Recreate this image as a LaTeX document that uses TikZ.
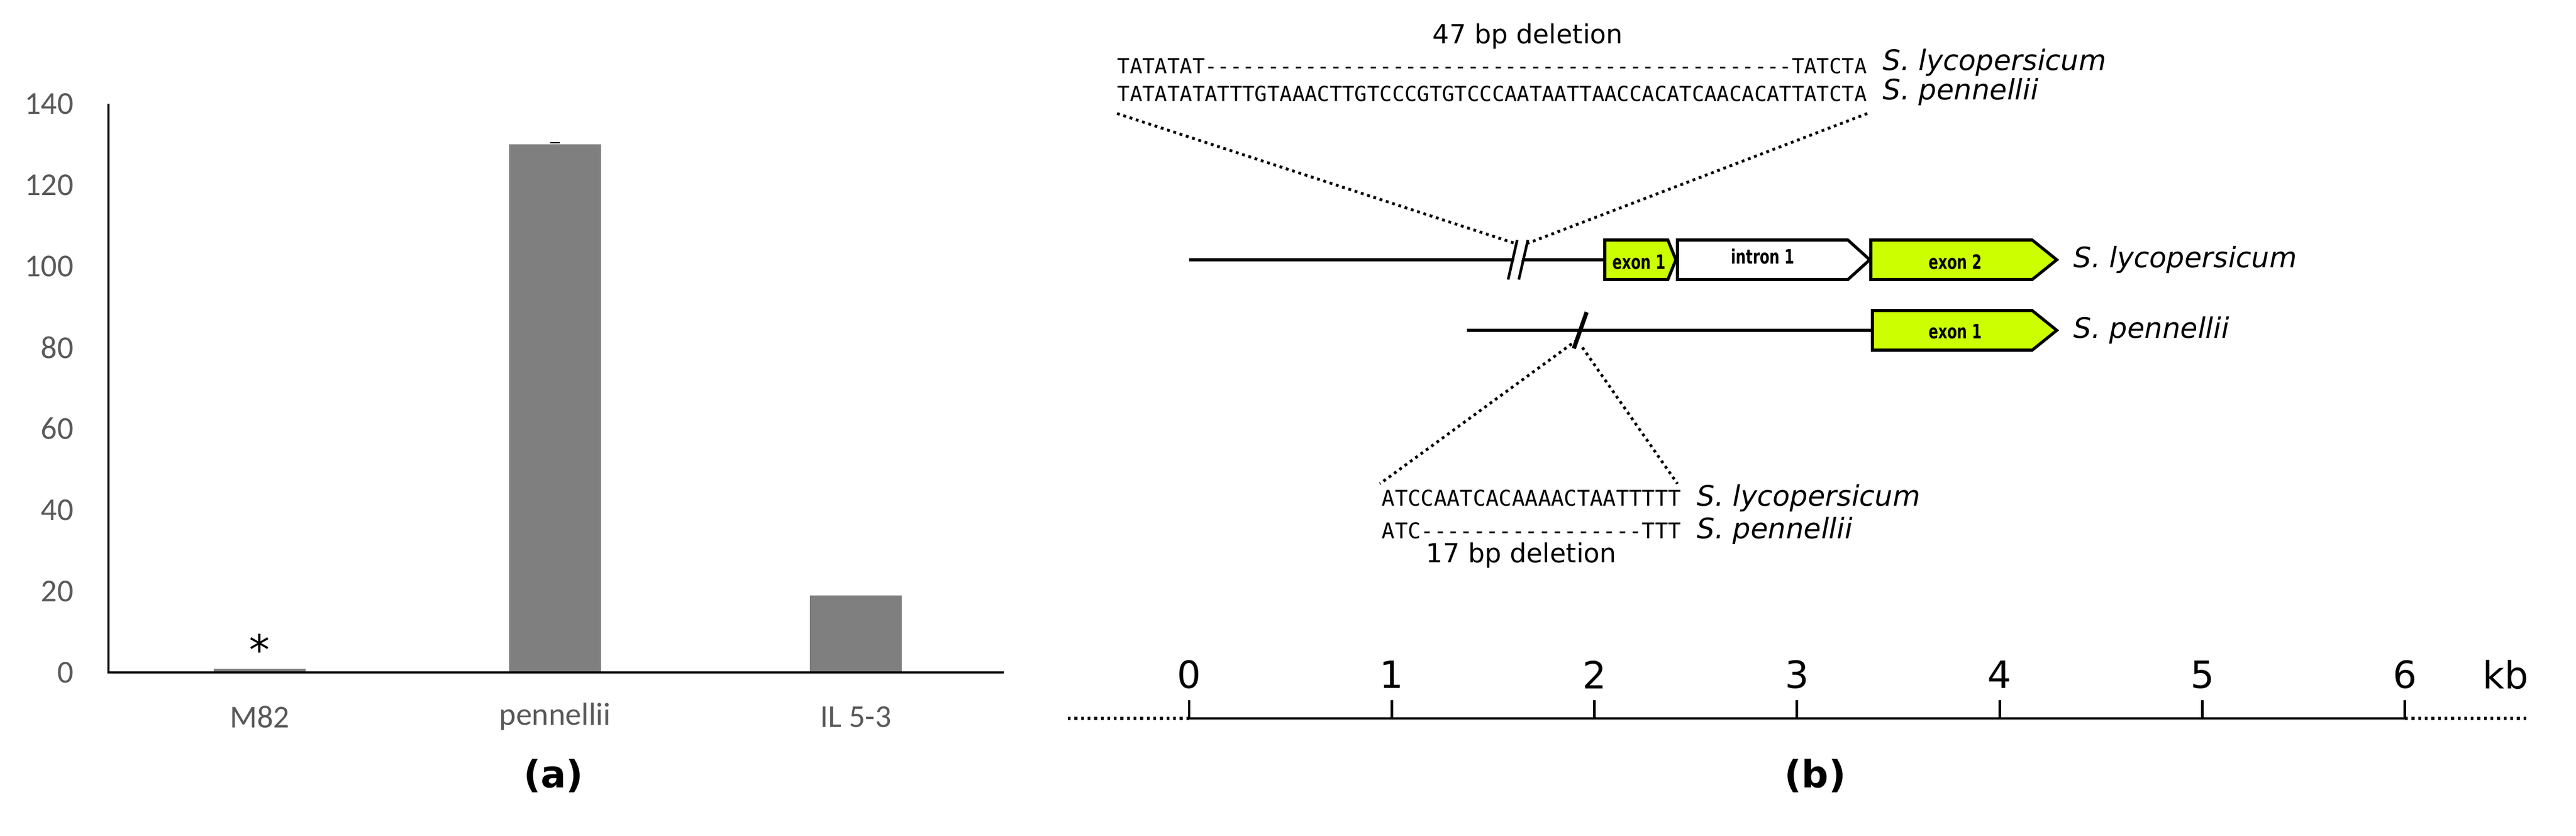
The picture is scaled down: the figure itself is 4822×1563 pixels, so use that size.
\documentclass[tikz,border=0pt]{standalone}
\usepackage{fontspec}
\setmainfont{DejaVu Sans}
\newfontfamily\carl{Carlito}
\newfontfamily\cond{DejaVu Sans Condensed}
\newfontfamily\mono{DejaVu Sans Mono}
\usepackage{graphicx}
\definecolor{lime}{HTML}{CCFF00}
\definecolor{axg}{HTML}{595959}
\definecolor{barg}{HTML}{7F7F7F}
\newcommand{\sq}[2]{\resizebox{#1}{!}{\mono\fontsize{10}{12}\selectfont #2}}
\begin{document}
\begin{tikzpicture}[x=0.01cm,y=-0.01cm,
  tick/.style={font=\carl\fontsize{17}{19}\selectfont,text=axg},
  bar/.style={fill=barg,draw=none},
  sp/.style={font=\fontsize{15}{17}\selectfont\itshape,anchor=west,inner sep=0},
  gene/.style={draw=black,line width=1.6pt,line join=miter},
  gl/.style={font=\cond\bfseries\fontsize{10.5}{11}\selectfont,inner sep=0},
  dl/.style={line width=1.5pt,dotted},
  bl/.style={line width=1.7pt},
  kb/.style={font=\fontsize{20}{22}\selectfont}]
\useasboundingbox (0,0) rectangle (4822,1563);
% ---------- panel a
\foreach \v in {0,20,...,140}{\node[tick,anchor=east] (t\v) at (150,{1258-\v*7.6}) {\v};}
\fill[bar] (400,1258) rectangle (572,{1258-0.9*7.6});
\fill[bar] (953,1258) rectangle (1125,{1258-130*7.6});
\fill[bar] (1516,1258) rectangle (1688,{1258-19*7.6});
\draw[line width=0.8pt] (1030,{1258-130.4*7.6}) -- (1048,{1258-130.4*7.6});
\draw[line width=1.4pt] (203,194) coordinate (ytop) -- (203,1258) coordinate (orig) -- (1879,1258) coordinate (xend);
\node[font=\fontsize{22}{24}\selectfont] (ast) at (486,1215) {*};
\node[tick] (l1) at (486,1341) {M82};
\node[tick] (l2) at (1039,1341) {pennellii};
\node[tick] (l3) at (1602,1341) {IL 5-3};
\node[font=\bfseries\fontsize{20}{22}\selectfont] (pa) at (1036,1451) {(a)};
% ---------- panel b top sequences
\node[font=\fontsize{14}{16}\selectfont] (d47) at (2860,68) {47 bp deletion};
\node[inner sep=0,anchor=west] (s1) at (2091,123) {\sq{14.02cm}{TATATAT-----------------------------------------------TATCTA}};
\node[inner sep=0,anchor=west] (s2) at (2091,175) {\sq{14.02cm}{TATATATATTTGTAAACTTGTCCCGTGTCCCAATAATTAACCACATCAACACATTATCTA}};
\node[sp] (sl1) at (3524,117) {S. lycopersicum};
\node[sp] (sp1) at (3524,172) {S. pennellii};
% lycopersicum gene
\coordinate (lst) at (2226,486);
\draw[bl] (lst) -- (3004,486);
\fill[white] (2826,523) -- (2843,449) -- (2857,449) -- (2840,523) -- cycle;
\draw[line width=1.4pt] (2823,523) -- (2840,449) (2843,523) -- (2860,449);
\draw[gene,fill=lime] (3004,449) -- (3122,449) -- (3137,486) -- (3122,523) -- (3004,523) -- cycle;
\node[gl] (e1) at (3068,490) {\scalebox{0.8}[1]{exon 1}};
\draw[gene,fill=white] (3140,449) -- (3459,449) -- (3500,486) -- (3459,523) -- (3140,523) -- cycle;
\node[gl] (i1) at (3300,480) {\scalebox{0.8}[1]{intron 1}};
\draw[gene,fill=lime] (3502,449) -- (3804,449) -- (3850,486) -- (3804,523) -- (3502,523) -- cycle;
\node[gl] (e2) at (3660,490) {\scalebox{0.8}[1]{exon 2}};
\node[sp] (sl2) at (3881,486) {S. lycopersicum};
\draw[dl] (s2.south west) ++(0,22) -- (2835,455);
\draw[dl] (s2.south east) ++(0,22) -- (2860,455);
% pennellii gene
\draw[bl] (2746,618) -- (3505,618);
\draw[gene,fill=lime] (3505,581) -- (3804,581) -- (3850,618) -- (3804,655) -- (3505,655) -- cycle;
\node[gl] (e3) at (3660,620) {\scalebox{0.8}[1]{exon 1}};
\node[sp] (sp2) at (3881,618) {S. pennellii};
\draw[line width=2.2pt] (2946,652) -- (2970,584);
\coordinate (sl) at (2952,636);
% bottom sequences
\node[inner sep=0,anchor=west] (b1) at (2586,932) {\sq{5.6cm}{ATCCAATCACAAAACTAATTTTT}};
\node[inner sep=0,anchor=west] (b2) at (2586,993) {\sq{5.6cm}{ATC-----------------TTT}};
\node[sp] (sl3) at (3176,932) {S. lycopersicum};
\node[sp] (sp3) at (3176,993) {S. pennellii};
\node[font=\fontsize{14}{16}\selectfont] (d17) at (2848,1039) {17 bp deletion};
\draw[dl] (sl) -- (2583,905);
\draw[dl] (2962,650) -- (3140,905);
% scale
\draw[dl] (1999,1344) -- (2226,1344);
\draw[dl] (4502,1344) -- (4729,1344);
\draw[line width=1.4pt] (2226,1344) -- (4502,1344);
\foreach \k in {0,...,6}{
  \draw[line width=1.4pt] ({2226+\k*379.3},1344) -- ({2226+\k*379.3},1310);
  \node[kb] (k\k) at ({2226+\k*379.3},1262) {\k};}
\node[kb] (kbl) at (4690,1262) {kb};
\node[font=\bfseries\fontsize{20}{22}\selectfont] (pb) at (3398,1451) {(b)};
\end{tikzpicture}
\end{document}
